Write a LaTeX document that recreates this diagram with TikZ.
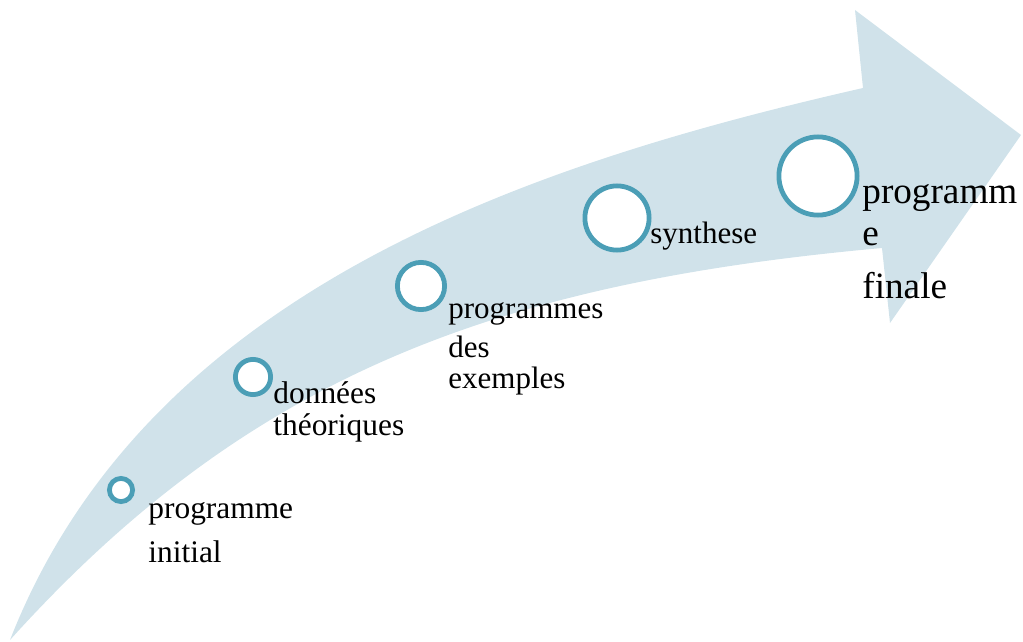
\documentclass[tikz,border=0pt]{standalone}
\usepackage{fontspec}
\setmainfont{Liberation Serif}
\usetikzlibrary{positioning}
\definecolor{bandblue}{RGB}{208,226,234}
\definecolor{ringteal}{RGB}{75,158,182}

\begin{document}
\begin{tikzpicture}[
  x=0.5pt, y=-0.5pt,
  ring/.style={circle, draw=ringteal, line width=2.4pt, fill=white, inner sep=0pt},
  lbl/.style={anchor=base west, align=left, inner sep=0pt}
]
\useasboundingbox (0,0) rectangle (1023,642);
% curved band with arrow head
\coordinate (tail) at (10,640);
\fill[bandblue] (tail) .. controls (147,290) and (529,164) .. (863,88)
  -- (855,10) -- (1021,135) -- (890,323) -- (882,248)
  .. controls (495,283) and (248,376) .. (tail) -- cycle;
% steps
\node[ring, minimum size=11.6pt] (ini) at (121,490) {};
\node[ring, minimum size=17.6pt] (don) at (253,377) {};
\node[ring, minimum size=23.6pt] (exe) at (421,286) {};
\node[ring, minimum size=32.1pt] (syn) at (617,218) {};
\node[ring, minimum size=39.1pt] (fin) at (818,176) {};
% labels (anchored on the baseline of their last line)
\node[lbl, font=\fontsize{15.7pt}{22pt}\selectfont] (ini-t) at (148,562) {programme\\initial};
\node[lbl, font=\fontsize{15.7pt}{16pt}\selectfont] (don-t) at (273,435) {données\\théoriques};
\node[lbl, font=\fontsize{15.5pt}{15.5pt}\selectfont] (exe-t) at (448,388) {programmes\\[4pt]des\\exemples};
\node[lbl, font=\fontsize{15.5pt}{16pt}\selectfont] (syn-t) at (650,243) {synthese};
\node[lbl, font=\fontsize{18.6pt}{21pt}\selectfont] (fin-t) at (862,298) {programm\\e\\[5.5pt]finale};
\end{tikzpicture}
\end{document}
